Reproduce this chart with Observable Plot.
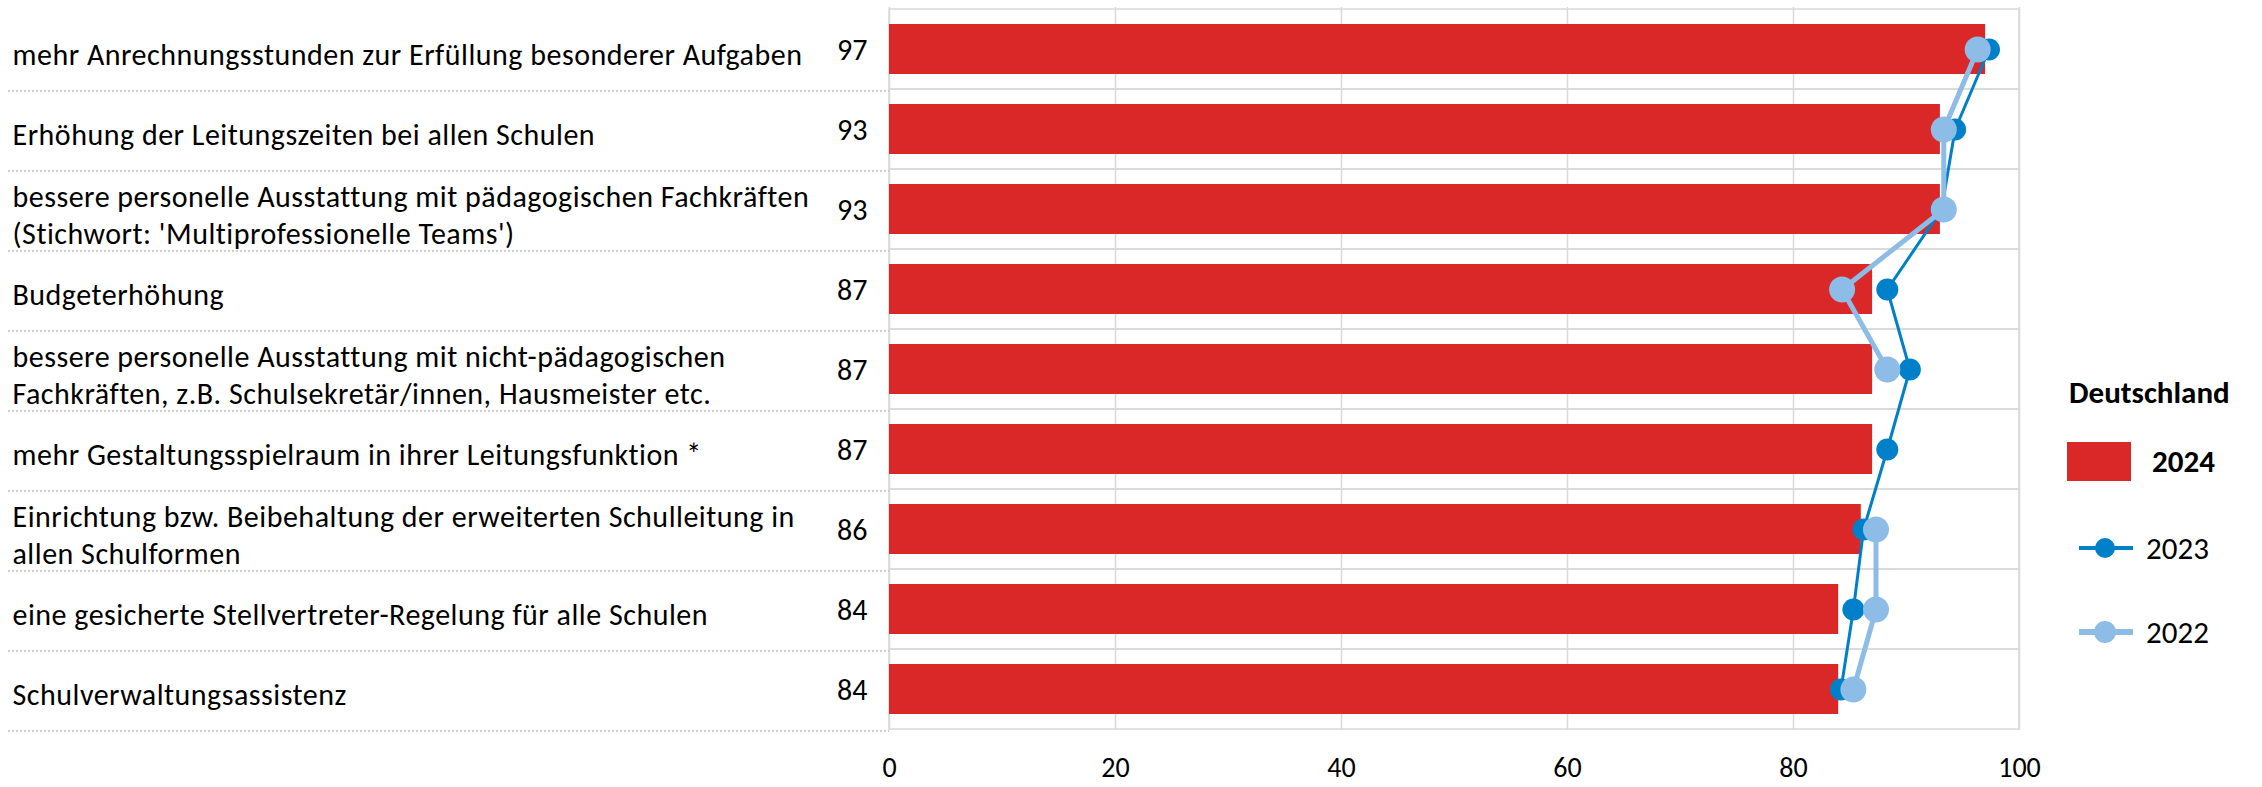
<!DOCTYPE html>
<html>
<head>
<meta charset="utf-8">
<script src="https://cdn.jsdelivr.net/npm/d3@7"></script>
<script src="https://cdn.jsdelivr.net/npm/@observablehq/plot@0.6"></script>
<style>
  html, body { margin: 0; padding: 0; background: #ffffff; }
  #chart svg { display: block; }
  .catlabel text, .catlabel tspan { letter-spacing: 0.5px; }
</style>
</head>
<body>
<div id="chart"></div>
<script>
// ---------- DATA ----------
const categories = [
  "mehr Anrechnungsstunden zur Erfüllung besonderer Aufgaben",
  "Erhöhung der Leitungszeiten bei allen Schulen",
  "bessere personelle Ausstattung mit pädagogischen Fachkräften\n(Stichwort: 'Multiprofessionelle Teams')",
  "Budgeterhöhung",
  "bessere personelle Ausstattung mit nicht-pädagogischen\nFachkräften, z.B. Schulsekretär/innen, Hausmeister etc.",
  "mehr Gestaltungsspielraum in ihrer Leitungsfunktion *",
  "Einrichtung bzw. Beibehaltung der erweiterten Schulleitung in\nallen Schulformen",
  "eine gesicherte Stellvertreter-Regelung für alle Schulen",
  "Schulverwaltungsassistenz"
];
const values2024 = [97, 93, 93, 87, 87, 87, 86, 84, 84];
const values2023 = [97.3, 94.3, 93.1, 88.3, 90.3, 88.3, 86.2, 85.3, 84.2];
const values2022 = [96.3, 93.3, 93.3, 84.3, 88.3, null, 87.3, 87.3, 85.3];
const xTicks = [0, 20, 40, 60, 80, 100];
const xDomain = [0, 100];
const seriesNames = ["2024", "2023", "2022"];
const legendTitle = "Deutschland";

// ---------- STYLE ----------
const RED = "#DA2829";
const DARK = "#0080C8";
const LIGHT = "#8DBCE6";
const GRID = "#D9D9D9";
const FONT = "Carlito, Calibri, Lato, 'Open Sans', sans-serif";
const labelSize = 30;

const rows = categories.map((cat, i) => ({
  cat,
  v24: values2024[i],
  v23: values2023[i],
  v22: values2022[i]
}));

const W = 2262, H = 787;
const chart = Plot.plot({
  width: W,
  height: H,
  marginLeft: 889,
  marginRight: 243,
  marginTop: 7,
  marginBottom: 57,
  style: { fontFamily: FONT, fontSize: labelSize + "px", color: "#000", background: "#fff" },
  x: { domain: xDomain, axis: null },
  y: { domain: categories, padding: 0, axis: null },
  marks: [
    Plot.ruleX(xTicks, { stroke: GRID, strokeWidth: 1.5 }),
    Plot.barX(rows, { y: "cat", x1: () => xDomain[0], x2: () => xDomain[1], fill: "none", stroke: GRID, strokeWidth: 1.5 }),
    Plot.barX(rows, { y: "cat", x: "v24", fill: RED, insetTop: 15, insetBottom: 15 }),
    Plot.line(rows, { x: "v23", y: "cat", stroke: DARK, strokeWidth: 3 }),
    Plot.dot(rows, { x: "v23", y: "cat", r: 11, fill: DARK }),
    Plot.line(rows, { x: "v22", y: "cat", stroke: LIGHT, strokeWidth: 5 }),
    Plot.dot(rows, { x: "v22", y: "cat", r: 13, fill: LIGHT }),
    Plot.text(rows, { y: "cat", text: d => String(d.v24), frameAnchor: "left", textAnchor: "end", dx: -22, dy: 1, fill: "#000", fontSize: labelSize }),
    Plot.text(rows, { y: "cat", text: "cat", frameAnchor: "left", textAnchor: "start", dx: -877, dy: 4, lineHeight: 1.22, fill: "#000", className: "catlabel" }),
    Plot.axisX(xTicks, { tickSize: 0, tickPadding: 27, fontSize: 28, label: null, fill: "#000" })
  ]
});

document.getElementById("chart").appendChild(chart);

// ---------- dotted separators in the label area ----------
const svg = d3.select(chart);
const ys = chart.scale("y");
const xs = chart.scale("x");
const left = xs.range[0];
const sep = svg.append("g");
categories.forEach(c => {
  const yb = ys.apply(c) + ys.bandwidth;
  sep.append("line")
    .attr("x1", 8).attr("x2", left)
    .attr("y1", yb + 2).attr("y2", yb + 2)
    .attr("stroke", "#BFBFBF").attr("stroke-width", 1.5)
    .attr("stroke-dasharray", "2,2");
});

// ---------- legend ----------
const lg = svg.append("g")
  .attr("font-family", FONT)
  .style("font-size", "31px")
  .attr("text-anchor", "start")
  .attr("fill", "#000");
const lx = xs.range[1] + 48;
lg.append("text").attr("x", lx + 2).attr("y", 392).attr("dy", "0.35em")
  .attr("font-weight", "bold").text(legendTitle);
lg.append("rect").attr("x", lx).attr("y", 442).attr("width", 64).attr("height", 39).attr("fill", RED);
lg.append("text").attr("x", lx + 85).attr("y", 461).attr("dy", "0.35em")
  .attr("font-weight", "bold").text(seriesNames[0]);
[[seriesNames[1], DARK, 548, 4, 10], [seriesNames[2], LIGHT, 632, 6, 11]].forEach(([name, col, yy, sw, r]) => {
  lg.append("line").attr("x1", lx + 12).attr("x2", lx + 66).attr("y1", yy).attr("y2", yy)
    .attr("stroke", col).attr("stroke-width", sw);
  lg.append("circle").attr("cx", lx + 38).attr("cy", yy).attr("r", r).attr("fill", col);
  lg.append("text").attr("x", lx + 79).attr("y", yy).attr("dy", "0.35em").text(name);
});
</script>
</body>
</html>
